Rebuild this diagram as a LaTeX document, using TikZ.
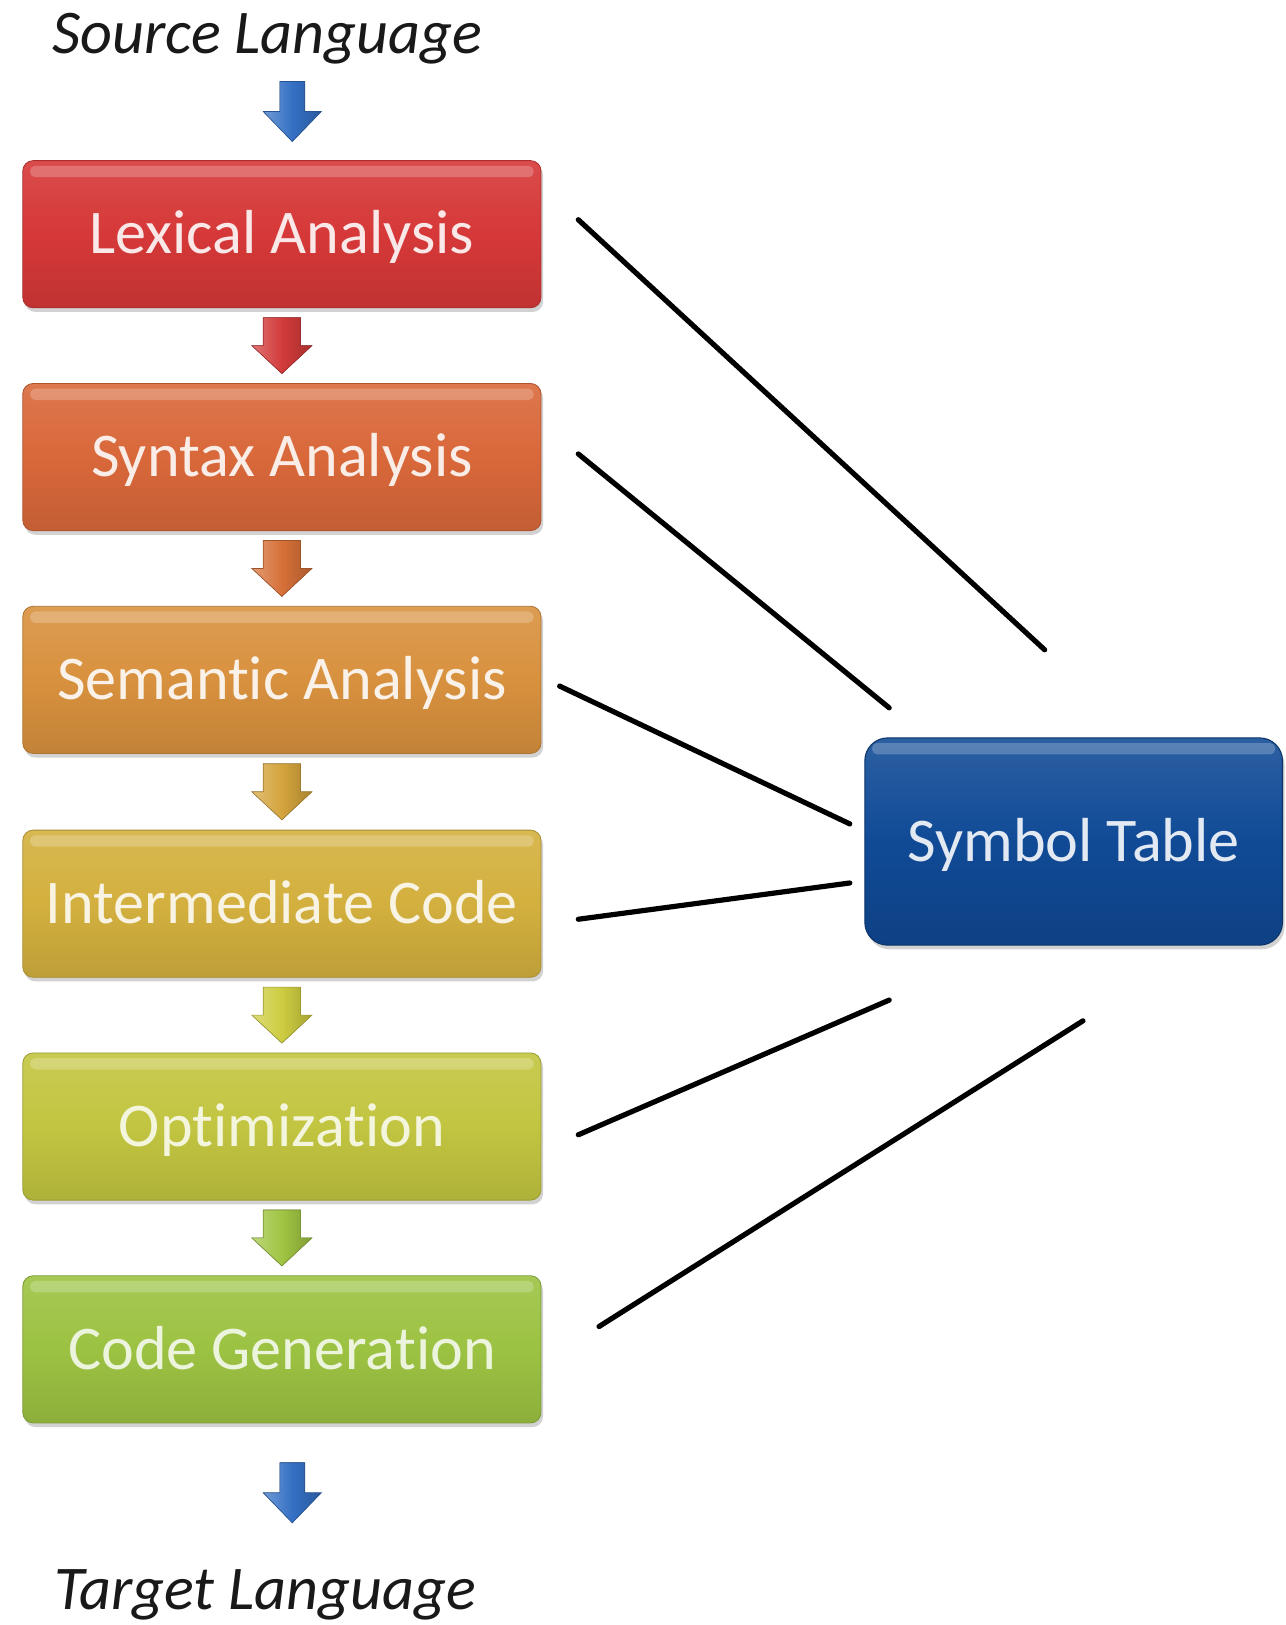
\documentclass[tikz,border=0pt]{standalone}
\usepackage{fontspec}
\setmainfont{Carlito}[Ligatures={NoCommon,NoContextual}]
\usetikzlibrary{calc,shadows}

% phase colours
\definecolor{lexc}{RGB}{214,56,56}
\definecolor{sync}{RGB}{217,104,58}
\definecolor{semc}{RGB}{216,145,62}
\definecolor{intc}{RGB}{211,176,62}
\definecolor{optc}{RGB}{194,197,64}
\definecolor{genc}{RGB}{156,194,66}
\definecolor{symc}{RGB}{16,74,150}
\definecolor{flowblue}{RGB}{52,112,196}
% arrow colours between phases
\definecolor{arA}{RGB}{210,58,58}
\definecolor{arB}{RGB}{214,112,56}
\definecolor{arC}{RGB}{212,164,60}
\definecolor{arD}{RGB}{206,204,64}
\definecolor{arE}{RGB}{160,196,66}

\tikzset{
  bigfont/.style={font=\fontsize{60}{72}\selectfont},
  gloss/.style={path picture={
    \fill[white, opacity=0.22, rounded corners=5pt]
      ($(path picture bounding box.north west)+(7,5)$) rectangle
      ($(path picture bounding box.north east)+(-7,16)$);}},
  phase/.style={
    rectangle, rounded corners=10pt, bigfont,
    minimum width=500pt, minimum height=142pt,
    text height=46pt, text depth=8pt,
    top color=#1!90!white, bottom color=#1!90!black, middle color=#1,
    draw=#1!80!black, line width=0.8pt, gloss,
    drop shadow={opacity=0.35, shadow xshift=2pt, shadow yshift=-4pt}},
  symbox/.style={
    rectangle, rounded corners=22pt, bigfont,
    minimum width=403pt, minimum height=200pt,
    text height=46pt, text depth=8pt,
    top color=symc!88!white, bottom color=symc!88!black, middle color=symc,
    draw=symc!70!black, line width=1pt, gloss,
    drop shadow={opacity=0.35, shadow xshift=2pt, shadow yshift=-4pt}},
  langtext/.style={font=\fontsize{60}{72}\selectfont\itshape, anchor=base, text=black!90},
  link/.style={line width=5pt, black, line cap=round},
  pics/flowarrow/.style args={#1/#2/#3/#4}{code={
    % #1 colour, #2 shaft half width, #3 head half width, #4 half length
    \fill[left color=#1!70!white, right color=#1!80!black, middle color=#1,
          draw=#1!75!black, line width=0.6pt]
      (-#2,-#4) -- (#2,-#4) -- (#2,0) -- (#3,0) -- (0,#4) -- (-#3,0) -- (-#2,0) -- cycle;
  }},
}

\begin{document}
\begin{tikzpicture}[x=1pt,y=-1pt]
  \useasboundingbox[fill=white] (0,0) rectangle (1240,1568);

  % input and output labels
  \node[langtext] (src) at (258,52) {Source Language};
  \node[langtext] (tgt) at (256,1553) {Target Language};

  % compiler phases
  \node[phase=lexc, text=lexc!12!white] (lex) at (272,226) {Lexical Analysis};
  \node[phase=sync, text=sync!12!white] (syn) at (272,441) {Syntax Analysis};
  \node[phase=semc, text=semc!12!white] (sem) at (272,656) {Semantic Analysis};
  \node[phase=intc, text=intc!15!white] (int) at (272,872) {Intermediate Code};
  \node[phase=optc, text=optc!18!white] (opt) at (272,1087) {Optimization};
  \node[phase=genc, text=genc!18!white] (gen) at (272,1302) {Code Generation};

  % symbol table
  \node[symbox, text=symc!12!white] (sym) at (1036,812) {Symbol Table};

  % flow arrows
  \pic at ($(lex.north)+(10,-47)$) {flowarrow={flowblue/12/28/29}};
  \pic at ($(lex.south)!0.5!(syn.north)$) {flowarrow={arA/18/29/27}};
  \pic at ($(syn.south)!0.5!(sem.north)$) {flowarrow={arB/18/29/27}};
  \pic at ($(sem.south)!0.5!(int.north)$) {flowarrow={arC/18/29/27}};
  \pic at ($(int.south)!0.5!(opt.north)$) {flowarrow={arD/18/29/27}};
  \pic at ($(opt.south)!0.5!(gen.north)$) {flowarrow={arE/18/29/27}};
  \pic at ($(gen.south)+(10,67)$) {flowarrow={flowblue/12/28/29}};

  % links between the phases and the symbol table
  \coordinate (lexE) at (558,212);   \coordinate (symA) at (1008,627);
  \coordinate (synE) at (558,438);   \coordinate (symB) at (858,683);
  \coordinate (semE) at (540,662);   \coordinate (symC) at (820,795);
  \coordinate (intE) at (558,887);   \coordinate (symD) at (820,852);
  \coordinate (optE) at (558,1095);  \coordinate (symE) at (858,965);
  \coordinate (genE) at (578,1280);  \coordinate (symF) at (1045,985);
  \draw[link] (lexE) -- (symA);
  \draw[link] (synE) -- (symB);
  \draw[link] (semE) -- (symC);
  \draw[link] (intE) -- (symD);
  \draw[link] (optE) -- (symE);
  \draw[link] (genE) -- (symF);
\end{tikzpicture}
\end{document}
